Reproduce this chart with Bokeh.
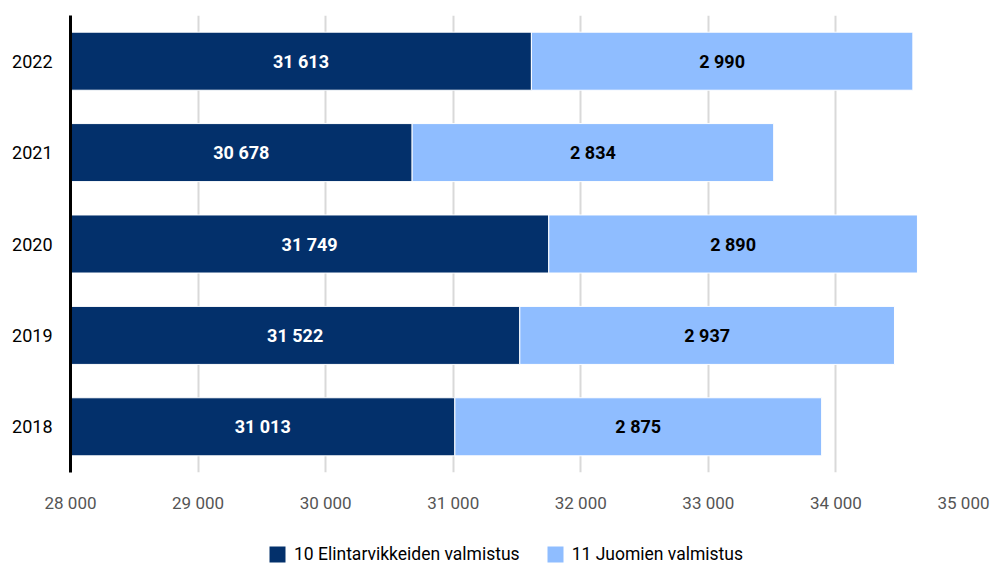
from bokeh.plotting import figure
from bokeh.layouts import column
from bokeh.models import ColumnDataSource, Legend, LegendItem, CustomJSTickFormatter, FixedTicker, Range1d, FactorRange
from bokeh.core.properties import value
from bokeh.embed import file_html
from bokeh.resources import INLINE

years = ["2018", "2019", "2020", "2021", "2022"]
food = [31013, 31522, 31749, 30678, 31613]
drinks = [2875, 2937, 2890, 2834, 2990]
series_names = ["10 Elintarvikkeiden valmistus", "11 Juomien valmistus"]
x_ticks = [28000, 29000, 30000, 31000, 32000, 33000, 34000, 35000]

X_START, X_END = 28000, 35000
DARK = "#03306b"
LIGHT = "#8fbdff"
FONT = "Roboto"

def fmt(v):
    return f"{v:,}".replace(",", " ")

total = [f + d for f, d in zip(food, drinks)]
src = ColumnDataSource(dict(
    y=years,
    food_left=[X_START] * len(years),
    food=food,
    total=total,
    food_mid=[(X_START + f) / 2 for f in food],
    drink_mid=[(f + t) / 2 for f, t in zip(food, total)],
    food_lbl=[fmt(v) for v in food],
    drink_lbl=[fmt(v) for v in drinks],
))

p = figure(width=994, height=525, output_backend="svg", toolbar_location=None,
           y_range=FactorRange(factors=years), x_range=Range1d(X_START, X_END),
           min_border_left=70, min_border_right=31, min_border_top=15, min_border_bottom=53)
p.outline_line_color = None

p.hbar(y="y", left="food_left", right="food", height=0.635, source=src,
       fill_color=DARK, line_color="white", line_width=1)
p.hbar(y="y", left="food", right="total", height=0.635, source=src,
       fill_color=LIGHT, line_color="white", line_width=1)

p.text(x="food_mid", y="y", text="food_lbl", source=src, text_color="white",
       text_font=value(FONT), text_font_style="bold", text_font_size="18px",
       text_align="center", text_baseline="middle")
p.text(x="drink_mid", y="y", text="drink_lbl", source=src, text_color="black",
       text_font=value(FONT), text_font_style="bold", text_font_size="18px",
       text_align="center", text_baseline="middle")

p.xaxis.ticker = FixedTicker(ticks=x_ticks)
p.xaxis.formatter = CustomJSTickFormatter(code="return tick.toString().replace(/\\B(?=(\\d{3})+(?!\\d))/g, ' ');")
p.xaxis.axis_line_color = None
p.xaxis.major_tick_line_color = None
p.xaxis.minor_tick_line_color = None
p.xaxis.major_label_standoff = 14
p.xaxis.major_label_text_font = FONT
p.xaxis.major_label_text_font_size = "17px"
p.xaxis.major_label_text_color = "#555555"

p.yaxis.axis_line_color = "black"
p.yaxis.axis_line_width = 3
p.yaxis.major_tick_line_color = None
p.yaxis.minor_tick_line_color = None
p.yaxis.major_label_standoff = 12
p.yaxis.major_label_text_font = FONT
p.yaxis.major_label_text_font_size = "18px"
p.yaxis.major_label_text_color = "black"

p.xgrid.grid_line_color = "#d9d9d9"
p.xgrid.grid_line_width = 2
p.ygrid.grid_line_color = None

# legend strip (hidden swatch renderers lie outside its visible range)
lp = figure(width=994, height=39, output_backend="svg", toolbar_location=None,
            x_range=Range1d(0, 1), y_range=Range1d(0, 1),
            x_axis_location=None, y_axis_location=None,
            min_border_left=0, min_border_right=0, min_border_top=0, min_border_bottom=0)
lp.grid.visible = False
lp.outline_line_color = None
swatch = ColumnDataSource(dict(y=[-5], left=[0], right=[0]))
d1 = lp.hbar(y="y", left="left", right="right", height=1, source=swatch, fill_color=DARK, line_color=None)
d2 = lp.hbar(y="y", left="left", right="right", height=1, source=swatch, fill_color=LIGHT, line_color=None)
legend = Legend(items=[LegendItem(label=series_names[0], renderers=[d1]),
                       LegendItem(label=series_names[1], renderers=[d2])],
                orientation="horizontal", location=(197, 0),
                label_text_font=FONT, label_text_font_size="17.5px", label_text_color="black",
                glyph_width=20, glyph_height=20, spacing=25, label_standoff=7,
                border_line_color=None, background_fill_alpha=0, margin=0, padding=0)
lp.add_layout(legend)

open("out.html", "w").write(file_html(column(p, lp, spacing=0), INLINE))
